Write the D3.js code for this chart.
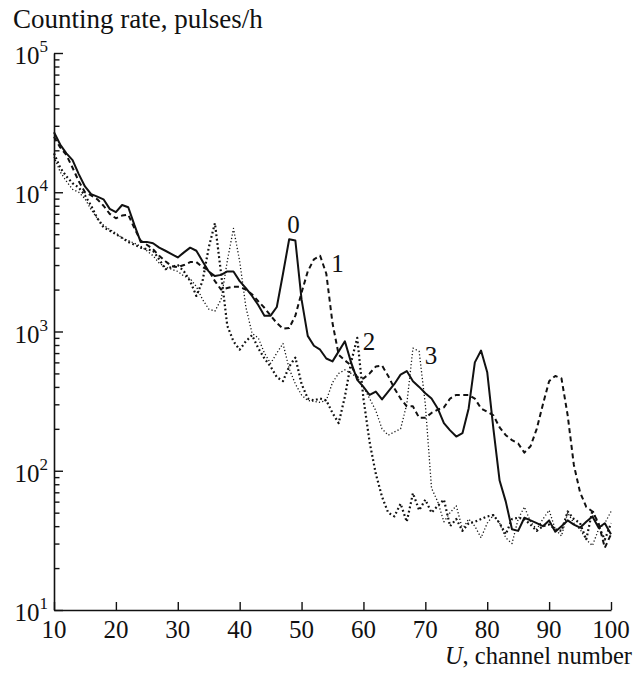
<!DOCTYPE html>
<html><head><meta charset="utf-8">
<script src="https://cdn.jsdelivr.net/npm/d3@7"></script>
<style>
body{margin:0;background:#fff}
svg{display:block}
</style>
</head><body><svg id="c" width="638" height="673" font-family="'Liberation Serif', Tinos, 'Times New Roman', 'DejaVu Serif', serif"></svg>
<script>
const channels = [10,11,12,13,14,15,16,17,18,19,20,21,22,23,24,25,26,27,28,29,30,31,32,33,34,35,36,37,38,39,40,41,42,43,44,45,46,47,48,49,50,51,52,53,54,55,56,57,58,59,60,61,62,63,64,65,66,67,68,69,70,71,72,73,74,75,76,77,78,79,80,81,82,83,84,85,86,87,88,89,90,91,92,93,94,95,96,97,98,99,100];
// curve 0 (solid)
const rate0 = [27000,22000,19000,17000,13500,11000,9700,9300,8900,7600,7200,8100,7800,5800,4400,4400,4300,4000,3800,3600,3400,3700,4000,3800,3200,2700,2500,2550,2700,2700,2300,2050,1800,1550,1300,1300,1500,2600,4600,4500,1700,930,790,740,640,610,720,850,600,450,400,350,370,325,370,420,490,520,440,400,360,330,280,220,195,176,186,280,600,730,510,200,85,60,38,37,46,44,42,40,44,36.5,40,44,41,39,43,47,39,42,35];
// curve 1 (dashed)
const rate1 = [25000,21000,18500,15000,12000,10000,9500,8900,8000,7000,6500,6800,6900,5500,4500,4200,3900,3500,3200,2950,2900,3000,3150,3150,2900,2750,2300,2000,2050,2100,2100,2000,1850,1650,1480,1300,1150,1050,1060,1300,1900,2700,3300,3500,2600,1150,680,620,570,470,460,500,560,570,480,390,330,290,290,240,240,260,275,285,330,350,350,350,330,280,265,250,205,180,166,157,135,150,200,300,440,480,460,250,110,70,55,51,42,28,35];
// curve 2 (coarse dotted)
const rate2 = [19000,15000,13000,11600,10800,9500,8000,6500,5600,5300,5000,4700,4400,4200,4000,3900,3800,3300,2800,2900,3000,2700,2300,1800,2300,4000,6000,2600,1100,850,740,850,940,760,640,560,470,440,560,650,420,330,320,330,320,260,220,340,600,900,330,160,95,65,50,47,58,43,69,52,62,50,56,62,40,45,37,42,43,45,47,48,42,35,45,46,45,41,37,40,41,38,37,51,45,42,32,52,40,32,42];
// curve 3 (fine dotted)
const rate3 = [18000,14000,12000,10500,10000,9000,7500,6500,5800,5400,5100,4700,4500,4300,4100,3800,3500,3100,2900,2800,2700,2500,2400,2100,1700,1450,1400,1700,3200,5500,3200,1500,970,900,700,590,700,820,540,420,350,320,315,310,320,430,500,530,500,470,400,330,270,200,180,190,200,300,760,720,300,75,60,43,50,56,38,45,40,33,42,48,42,33,30,45,55,43,38,45,52,38,34,50,42,38,32,29,38,42,51];

const xTicks = [10,20,30,40,50,60,70,80,90,100];
const yDecades = [1,2,3,4,5];
const curveNames = ["0","1","2","3"];
// label anchor points in data units (channel, rate)
const labelU = [48.7, 54.8, 59.9, 69.9];
const labelV = [5100, 2670, 740, 585];

const svg = d3.select("#c");
const x = d3.scaleLinear().domain([10,100]).range([54,611]);
const y = d3.scaleLog().domain([10,1e5]).range([610,53]);

// minor + major y ticks
const yTickVals = [];
yDecades.forEach(e => {
  if (e < 5) for (let m = 1; m <= 9; m++) yTickVals.push(m * Math.pow(10, e));
  else yTickVals.push(Math.pow(10, e));
});

const gx = svg.append("g").attr("transform","translate(0,610)")
  .call(d3.axisBottom(x).tickValues(xTicks).tickSizeInner(-8).tickSizeOuter(0).tickFormat(""));
gx.select(".domain").attr("stroke","#111").attr("stroke-width",1.6);
gx.selectAll(".tick line").attr("stroke","#111").attr("stroke-width",1.4);

const gy = svg.append("g").attr("transform","translate(54,0)")
  .call(d3.axisLeft(y).tickValues(yTickVals).tickSizeInner(-5.5).tickSizeOuter(0).tickFormat(""));
gy.select(".domain").attr("stroke","#111").attr("stroke-width",1.6);
gy.selectAll(".tick line").attr("stroke","#111").attr("stroke-width",1.4)
  .attr("x2", d => (Math.abs(Math.log10(d) - Math.round(Math.log10(d))) < 1e-9) ? 9 : 5.5);

const ff = "'Liberation Serif', Tinos, 'Times New Roman', 'DejaVu Serif', serif";

// x tick labels
svg.append("g").selectAll("text").data(xTicks).join("text")
  .attr("x", d => x(d)).attr("y", 638).attr("text-anchor","middle")
  .attr("font-family", ff).attr("fill","#111")
  .attr("font-size", 25).text(d => d);

// y tick labels 10^n
const yl = svg.append("g").selectAll("text").data(yDecades).join("text")
  .attr("x", 48).attr("y", d => y(Math.pow(10,d)) + 11).attr("text-anchor","end")
  .attr("font-family", ff).attr("fill","#111")
  .attr("font-size", 25);
yl.append("tspan").text("10");
yl.append("tspan").attr("dy", -12).attr("font-size", 17).text(d => d);

// axis titles
svg.append("text").attr("x", 13).attr("y", 28).attr("font-size", 27)
  .attr("font-family", ff).attr("fill","#111").text("Counting rate, pulses/h");
const xt = svg.append("text").attr("x", 632).attr("y", 664).attr("text-anchor","end")
  .attr("font-family", ff).attr("fill","#111").attr("font-size", 24.5);
xt.append("tspan").attr("font-style","italic").text("U");
xt.append("tspan").text(", channel number");

// curves
const series = [
  {vals: rate0, w: 2.0, dash: null},
  {vals: rate1, w: 2.0, dash: "5,3.5"},
  {vals: rate2, w: 2.2, dash: "1.8,2.6"},
  {vals: rate3, w: 1.3, dash: "1.2,2.2"}
];
const line = d3.line().x(d => x(d[0])).y(d => y(d[1]));
series.forEach(s => {
  svg.append("path")
    .datum(channels.map((c,i) => [c, s.vals[i]]))
    .attr("d", line).attr("fill","none").attr("stroke","#111")
    .attr("stroke-width", s.w).attr("stroke-linejoin","round")
    .attr("stroke-dasharray", s.dash);
});

// curve labels
svg.append("g").selectAll("text").data(curveNames).join("text")
  .attr("x", (d,i) => x(labelU[i]))
  .attr("y", (d,i) => y(labelV[i]))
  .attr("text-anchor", (d,i) => i === 0 ? "middle" : "start")
  .attr("font-family", ff).attr("fill","#111")
  .attr("font-size", 25).text(d => d);
</script>
</body></html>
